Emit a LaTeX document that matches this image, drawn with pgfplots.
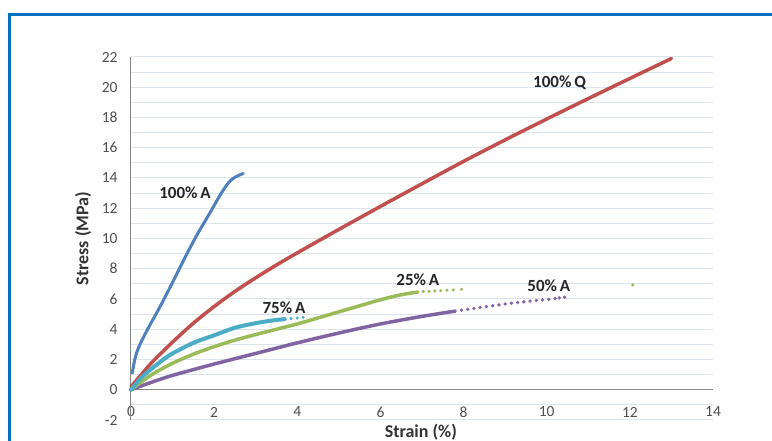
\documentclass[border=0pt]{standalone}
\usepackage{fontspec}
\setmainfont{Carlito}
\usepackage{pgfplots}
\pgfplotsset{compat=1.18}
\definecolor{sblue}{HTML}{4F81BD}
\definecolor{sred}{HTML}{C0504D}
\definecolor{sgreen}{HTML}{9BBB59}
\definecolor{spurple}{HTML}{8064A2}
\definecolor{scyan}{HTML}{4BACC6}
\definecolor{frame}{HTML}{0070C0}
\definecolor{gridc}{HTML}{DCE4EE}
\definecolor{axisc}{HTML}{868686}
\definecolor{tickc}{HTML}{505050}
\begin{document}
\begin{tikzpicture}
\useasboundingbox (0pt,0pt) rectangle (772pt,441pt);
\fill[white] (0pt,0pt) rectangle (772pt,441pt);
\draw[line width=3pt, frame, line join=miter] (9pt,-2pt) -- (9pt,426.5pt) -- (774pt,426.5pt);
\begin{axis}[
  at={(131pt,21pt)}, anchor=south west,
  scale only axis, width=582pt, height=363pt,
  xmin=0, xmax=14, ymin=-2, ymax=22,
  xtick={0,2,...,14}, ytick={-2,0,...,22},
  minor ytick={-1,1,...,21},
  ymajorgrids, yminorgrids,
  major grid style={gridc, line width=1pt},
  minor grid style={gridc, line width=1pt},
  major tick length=0pt, minor tick length=0pt,
  axis line style={draw=none},
  /pgf/number format/assume math mode=true,
  tick label style={font=\fontsize{15.5}{18}\selectfont, text=tickc},
  xticklabel style={anchor=center, yshift=8pt},
  yticklabel style={anchor=east, xshift=-10pt},
  xlabel={\bfseries Strain (\%)},
  ylabel={\bfseries Stress (MPa)},
  label style={font=\fontsize{18}{21}\selectfont, text=black!80},
  xlabel style={at={(axis description cs:0.498,-0.033)}, anchor=center},
  ylabel style={at={(axis description cs:-0.0825,0.5)}, anchor=center},
  clip=false,
]
\draw[axisc, line width=1pt] (axis cs:0,-2) -- (axis cs:0,22);
\draw[axisc, line width=1pt] (axis cs:0,0) -- (axis cs:14,0);

% 100% A
\addplot[sblue, line width=3pt, line join=round, line cap=round, smooth, tension=0.5] coordinates {
(0.03,1.1) (0.1,2.1) (0.2,2.9) (0.4,4.0) (0.7,5.5) (1.0,7.1) (1.3,8.75)
(1.6,10.3) (1.9,11.7) (2.15,12.9) (2.35,13.7) (2.5,14.05) (2.7,14.3)};

% 100% Q
\addplot[sred, line width=3.5pt, line join=round, line cap=round, smooth, tension=0.5] coordinates {
(0,0.2) (0.25,1.0) (0.5,1.8) (1,3.15) (1.5,4.4) (2,5.5) (2.5,6.5) (3,7.4) (3.5,8.25)
(4,9.05) (5,10.6) (6,12.12) (7,13.62) (8,15.1) (9,16.52) (10,17.9) (11,19.25) (12,20.58) (13,21.9)};

% 50% A
\addplot[spurple, line width=3.5pt, line join=round, line cap=round, smooth, tension=0.5] coordinates {
(0,0) (0.5,0.5) (1,0.95) (2,1.7) (3,2.4) (4,3.1) (5,3.75) (6,4.35) (7,4.85) (7.8,5.2)};
\addplot[spurple, only marks, mark=*, mark size=1.5pt] coordinates {
(7.95,5.26) (8.1,5.32) (8.25,5.38) (8.4,5.44) (8.55,5.5) (8.7,5.56) (8.85,5.61)
(9.0,5.67) (9.15,5.72) (9.3,5.77) (9.45,5.81) (9.6,5.86) (9.75,5.9) (9.9,5.94)
(10.05,5.98) (10.2,6.03) (10.3,6.07) (10.43,6.12)};

% 25% A
\addplot[sgreen, line width=3.5pt, line join=round, line cap=round, smooth, tension=0.5] coordinates {
(0,0) (0.5,1.0) (1,1.75) (1.5,2.35) (2,2.85) (2.5,3.28) (3,3.65) (3.5,4.0) (4,4.35)
(4.5,4.75) (5,5.15) (5.5,5.55) (6,5.95) (6.5,6.28) (6.9,6.46)};
\addplot[sgreen, only marks, mark=*, mark size=1.4pt] coordinates {
(7.03,6.49) (7.17,6.51) (7.31,6.53) (7.45,6.55) (7.6,6.58) (7.75,6.6) (7.95,6.64) (12.07,6.93)};

% 75% A
\addplot[scyan, line width=4pt, line join=round, line cap=round, smooth, tension=0.5] coordinates {
(0,0) (0.25,0.8) (0.5,1.4) (0.78,2.0) (1.0,2.4) (1.5,3.1) (2,3.6) (2.5,4.1) (3,4.4)
(3.4,4.58) (3.7,4.67)};
\addplot[scyan, only marks, mark=*, mark size=1.3pt] coordinates {
(3.85,4.71) (4.0,4.74) (4.14,4.78)};

\begin{scope}[every node/.style={font=\fontsize{17}{20}\selectfont\bfseries, text=black!85, inner sep=0pt}]
\node at (axis cs:1.30,13.06) {100\%\,A};
\node at (axis cs:10.31,20.3) {100\%\,Q};
\node at (axis cs:3.68,5.41) {75\%\,A};
\node at (axis cs:6.9,7.26) {25\%\,A};
\node at (axis cs:10.05,6.88) {50\%\,A};
\end{scope}
\end{axis}
\end{tikzpicture}
\end{document}
